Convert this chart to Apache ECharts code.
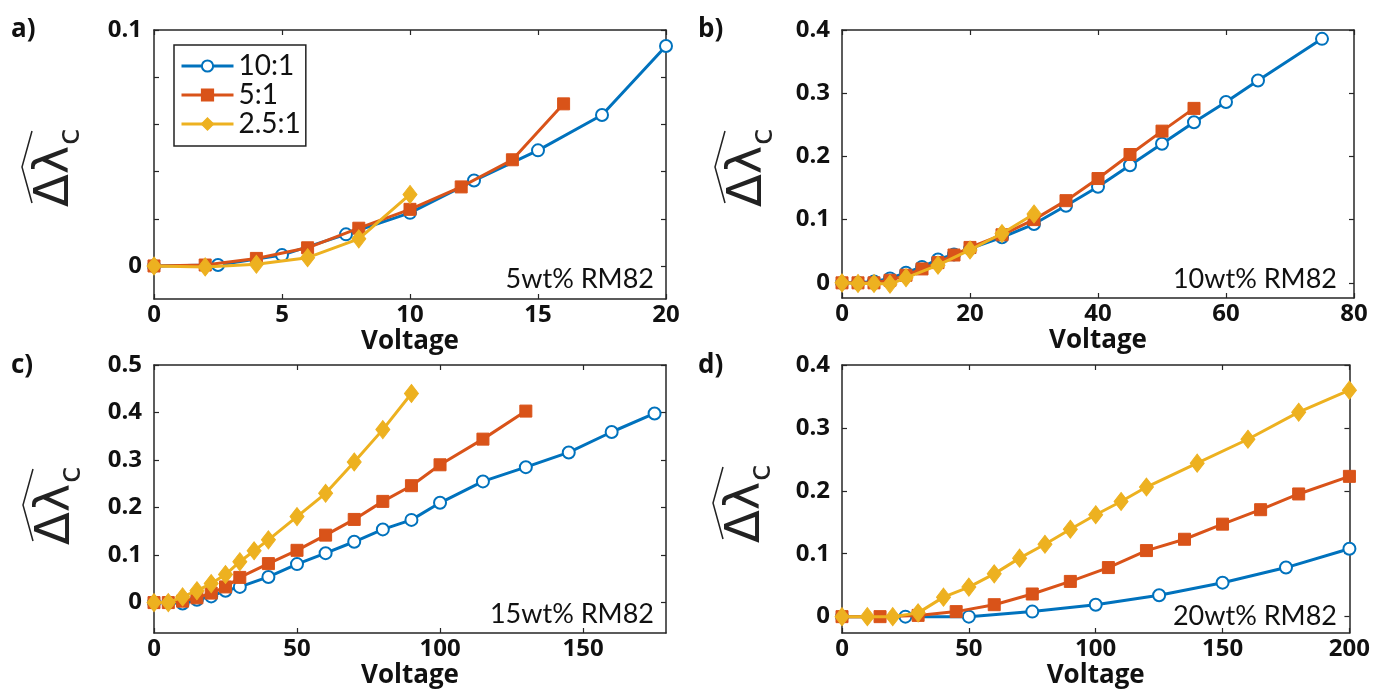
<!DOCTYPE html>
<html><head><meta charset="utf-8">
<script src="https://cdn.jsdelivr.net/npm/echarts@6/dist/echarts.min.js"></script>
<style>html,body{margin:0;padding:0;background:#fff}#c{width:1373px;height:690px}</style>
</head><body><div id="c"></div><script>
// ---- series names ----
const seriesNames = ['10:1', '5:1', '2.5:1'];
// ---- panel a: 5wt% RM82 ----
const aV10 = [0, 2.5, 5, 7.5, 10, 12.5, 15, 17.5, 20];
const aY10 = [0, 0.0004, 0.0046, 0.0134, 0.0225, 0.0362, 0.049, 0.064, 0.0932];
const aV5 = [0, 2, 4, 6, 8, 10, 12, 14, 16];
const aY5 = [0, 0.0004, 0.0032, 0.0077, 0.016, 0.024, 0.0335, 0.045, 0.0687];
const aV25 = [0, 2, 4, 6, 8, 10];
const aY25 = [0, -0.0004, 0.0007, 0.0035, 0.0115, 0.0303];
// ---- panel b: 10wt% RM82 ----
const bV10 = [0, 2.5, 5, 7.5, 10, 12.5, 15, 17.5, 20, 25, 30, 35, 40, 45, 50, 55, 60, 65, 75];
const bY10 = [0, 0, 0.002, 0.007, 0.016, 0.025, 0.037, 0.045, 0.054, 0.072, 0.093, 0.122, 0.152, 0.186, 0.22, 0.254, 0.286, 0.32, 0.386];
const bV5 = [0, 2.5, 5, 7.5, 10, 12.5, 15, 17.5, 20, 25, 30, 35, 40, 45, 50, 55];
const bY5 = [0, 0, 0, 0.004, 0.012, 0.022, 0.032, 0.044, 0.056, 0.076, 0.1, 0.13, 0.165, 0.203, 0.24, 0.276];
const bV25 = [0, 2.5, 5, 7.5, 10, 15, 20, 25, 30];
const bY25 = [0, -0.001, -0.001, -0.002, 0.008, 0.028, 0.052, 0.078, 0.109];
// ---- panel c: 15wt% RM82 ----
const cV10 = [0, 5, 10, 15, 20, 25, 30, 40, 50, 60, 70, 80, 90, 100, 115, 130, 145, 160, 175];
const cY10 = [0, 0, -0.002, 0.006, 0.013, 0.025, 0.033, 0.054, 0.081, 0.104, 0.128, 0.154, 0.174, 0.21, 0.255, 0.285, 0.316, 0.359, 0.398];
const cV5 = [0, 5, 10, 15, 20, 25, 30, 40, 50, 60, 70, 80, 90, 100, 115, 130];
const cY5 = [0, 0, 0.003, 0.01, 0.02, 0.033, 0.053, 0.082, 0.11, 0.142, 0.175, 0.213, 0.246, 0.29, 0.344, 0.403];
const cV25 = [0, 5, 10, 15, 20, 25, 30, 35, 40, 50, 60, 70, 80, 90];
const cY25 = [0, 0, 0.012, 0.025, 0.04, 0.059, 0.086, 0.109, 0.132, 0.181, 0.23, 0.296, 0.364, 0.44];
// ---- panel d: 20wt% RM82 ----
const dV10 = [0, 25, 50, 75, 100, 125, 150, 175, 200];
const dY10 = [0, 0, 0, 0.008, 0.019, 0.034, 0.054, 0.078, 0.108];
const dV5 = [0, 15, 30, 45, 60, 75, 90, 105, 120, 135, 150, 165, 180, 200];
const dY5 = [0, 0, 0.002, 0.008, 0.019, 0.036, 0.056, 0.078, 0.105, 0.123, 0.147, 0.17, 0.195, 0.223];
const dV25 = [0, 10, 20, 30, 40, 50, 60, 70, 80, 90, 100, 110, 120, 140, 160, 180, 200];
const dY25 = [0, 0, 0, 0.006, 0.031, 0.047, 0.068, 0.093, 0.115, 0.139, 0.162, 0.183, 0.206, 0.244, 0.282, 0.325, 0.36];
// ---- tick values ----
const aXTicks = [0, 5, 10, 15, 20];
const aYLabels = [0, 0.1];
const aYTicks = [0, 0.02, 0.04, 0.06, 0.08, 0.1];
const bXTicks = [0, 20, 40, 60, 80];
const bYTicks = [0, 0.1, 0.2, 0.3, 0.4];
const cXTicks = [0, 50, 100, 150];
const cYTicks = [0, 0.1, 0.2, 0.3, 0.4, 0.5];
const dXTicks = [0, 50, 100, 150, 200];
const dYTicks = [0, 0.1, 0.2, 0.3, 0.4];
const panelTags = ['a)', 'b)', 'c)', 'd)'];
const notes = ['5wt% RM82', '10wt% RM82', '15wt% RM82', '20wt% RM82'];
const xName = 'Voltage';

const colors = ['#0072BD', '#D95319', '#EDB120'];
const AX = '#262626';
const BFONT = 'Open Sans';
const FONT = 'Lato';

const pts = (xs, ys) => xs.map((x, i) => [x, ys[i]]);

const panels = [
  {grid: {left: 154, top: 30, width: 512, height: 269}, x: [0, 20], xt: aXTicks, y: [-0.014, 0.1], yl: aYLabels, yt: aYTicks,
   data: [pts(aV10, aY10), pts(aV5, aY5), pts(aV25, aY25)]},
  {grid: {left: 842, top: 30, width: 512, height: 268}, x: [0, 80], xt: bXTicks, y: [-0.024, 0.4], yl: bYTicks, yt: bYTicks,
   data: [pts(bV10, bY10), pts(bV5, bY5), pts(bV25, bY25)]},
  {grid: {left: 154, top: 365, width: 512, height: 269}, x: [0, 179], xt: cXTicks, y: [-0.064, 0.5], yl: cYTicks, yt: cYTicks,
   data: [pts(cV10, cY10), pts(cV5, cY5), pts(cV25, cY25)]},
  {grid: {left: 842, top: 365, width: 512, height: 269}, x: [0, 200], xt: dXTicks, y: [-0.026, 0.4], yl: dYTicks, yt: dYTicks,
   data: [pts(dV10, dY10), pts(dV5, dY5), pts(dV25, dY25)]}
];

const grids = [], xAxes = [], yAxes = [], series = [];
const lineAx = {show: true, onZero: false, lineStyle: {color: AX, width: 1.5}};
const fmt = v => (Math.abs(v) < 1e-9 ? '0' : String(+v.toFixed(3)));

panels.forEach((p, i) => {
  grids.push(Object.assign({containLabel: false}, p.grid));
  xAxes.push({
    type: 'value', gridIndex: i, min: p.x[0], max: p.x[1], position: 'bottom',
    axisLine: lineAx, splitLine: {show: false},
    axisTick: {show: true, inside: true, length: 5, customValues: p.xt, lineStyle: {color: AX, width: 1.2}},
    axisLabel: {customValues: p.xt, formatter: fmt, fontFamily: BFONT, fontWeight: 'bold', fontSize: 24, color: '#111', margin: 4},
    name: xName, nameLocation: 'middle', nameGap: 30,
    nameTextStyle: {fontFamily: BFONT, fontWeight: 'bold', fontSize: 26, color: '#111'}
  });
  xAxes.push({
    type: 'value', gridIndex: i, min: p.x[0], max: p.x[1], position: 'top',
    axisLine: lineAx, splitLine: {show: false}, axisLabel: {show: false},
    axisTick: {show: true, inside: true, length: 5, customValues: p.xt, lineStyle: {color: AX, width: 1.2}}
  });
  yAxes.push({
    type: 'value', gridIndex: i, min: p.y[0], max: p.y[1], position: 'left',
    axisLine: lineAx, splitLine: {show: false},
    axisTick: {show: true, inside: true, length: 5, customValues: p.yt, lineStyle: {color: AX, width: 1.2}},
    axisLabel: {customValues: p.yl, formatter: fmt, fontFamily: BFONT, fontWeight: 'bold', fontSize: 24, color: '#111', margin: 12}
  });
  yAxes.push({
    type: 'value', gridIndex: i, min: p.y[0], max: p.y[1], position: 'right',
    axisLine: lineAx, splitLine: {show: false}, axisLabel: {show: false},
    axisTick: {show: true, inside: true, length: 5, customValues: p.yt, lineStyle: {color: AX, width: 1.2}}
  });
  const symbols = ['emptyCircle', 'rect', 'diamond'];
  const sizes = [12, 12, [14, 18]];
  p.data.forEach((d, k) => {
    series.push({
      type: 'line', name: seriesNames[k], xAxisIndex: 2 * i, yAxisIndex: 2 * i, data: d,
      symbol: symbols[k], symbolSize: sizes[k], showAllSymbol: true,
      lineStyle: {color: colors[k], width: 3},
      itemStyle: {color: colors[k], borderColor: colors[k], borderWidth: k === 0 ? 2 : 1},
      z: 2 + k
    });
  });
});

function yLabel(cx, cy) {
  return {
    type: 'group', x: cx, y: cy, rotation: Math.PI / 2,
    children: [
      {type: 'text', x: -40, y: 0, style: {text: 'Δλ', fontSize: 48, fontFamily: 'DejaVu Sans', fill: '#222',
        align: 'left', verticalAlign: 'middle', textAlign: 'left', textVerticalAlign: 'middle'}},
      {type: 'text', x: 22, y: 15, style: {text: 'c', fontSize: 30, fontFamily: 'DejaVu Sans', fill: '#222',
        align: 'left', verticalAlign: 'middle', textAlign: 'left', textVerticalAlign: 'middle'}},
      {type: 'polyline', shape: {points: [[-36, -24], [0, -34], [36, -24]]}, style: {stroke: '#222', lineWidth: 1.5, fill: null}}
    ]
  };
}
function txt(x, y, s, size, weight, align, fam) {
  return {type: 'text', x: x, y: y, style: {text: s, fontSize: size, fontWeight: weight, fontFamily: fam || FONT, fill: '#111',
    align: align, verticalAlign: 'middle', textAlign: align, textVerticalAlign: 'middle'}};
}

const graphics = [
  yLabel(56, 167), yLabel(749, 167), yLabel(57, 505), yLabel(747, 503),
  txt(11, 30, panelTags[0], 26, 'bold', 'left', BFONT), txt(698, 30, panelTags[1], 26, 'bold', 'left', BFONT),
  txt(11, 366, panelTags[2], 26, 'bold', 'left', BFONT), txt(698, 366, panelTags[3], 26, 'bold', 'left', BFONT),
  txt(654, 279, notes[0], 27, 'normal', 'right'), txt(1337, 279, notes[1], 27, 'normal', 'right'),
  txt(654, 614, notes[2], 27, 'normal', 'right'), txt(1337, 616, notes[3], 27, 'normal', 'right')
];

const chart = echarts.init(document.getElementById('c'), null, {renderer: 'canvas'});
chart.setOption({
  backgroundColor: '#fff',
  animation: false,
  grid: grids, xAxis: xAxes, yAxis: yAxes, series: series,
  legend: {
    data: seriesNames, orient: 'vertical', left: 174, top: 45,
    padding: [7, 5, 8, 6], itemGap: 1, itemWidth: 52, itemHeight: 14,
    borderColor: '#222', borderWidth: 1.5, backgroundColor: '#fff',
    lineStyle: {width: 3},
    textStyle: {fontFamily: FONT, fontSize: 28, color: '#111', lineHeight: 26}
  },
  graphic: graphics
});
</script></body></html>
